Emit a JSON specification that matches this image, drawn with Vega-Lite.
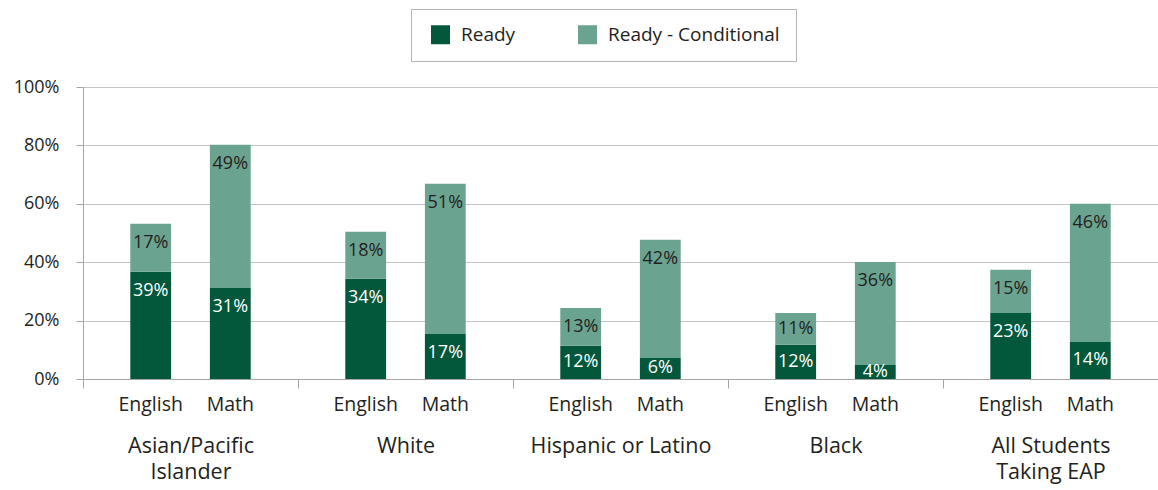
{
  "$schema": "https://vega.github.io/schema/vega-lite/v6.json",
  "width": 1075,
  "height": 292,
  "autosize": {"type": "none"},
  "padding": {"left": 83, "top": 87, "right": 0, "bottom": 111},
  "background": "white",
  "config": {
    "view": {"stroke": null},
    "font": "Open Sans",
    "axis": {"labelFont": "Open Sans", "labelColor": "#231f20", "titleColor": "#231f20"}
  },
  "data": {
    "values": [
      {"group": "Asian/Pacific Islander", "subject": "English", "status": "Ready", "value": 36.7, "label": "39%"},
      {"group": "Asian/Pacific Islander", "subject": "English", "status": "Ready - Conditional", "value": 16.5, "label": "17%"},
      {"group": "Asian/Pacific Islander", "subject": "Math", "status": "Ready", "value": 31.2, "label": "31%"},
      {"group": "Asian/Pacific Islander", "subject": "Math", "status": "Ready - Conditional", "value": 49.0, "label": "49%"},
      {"group": "White", "subject": "English", "status": "Ready", "value": 34.3, "label": "34%"},
      {"group": "White", "subject": "English", "status": "Ready - Conditional", "value": 16.1, "label": "18%"},
      {"group": "White", "subject": "Math", "status": "Ready", "value": 15.4, "label": "17%"},
      {"group": "White", "subject": "Math", "status": "Ready - Conditional", "value": 51.5, "label": "51%"},
      {"group": "Hispanic or Latino", "subject": "English", "status": "Ready", "value": 11.4, "label": "12%"},
      {"group": "Hispanic or Latino", "subject": "English", "status": "Ready - Conditional", "value": 12.9, "label": "13%"},
      {"group": "Hispanic or Latino", "subject": "Math", "status": "Ready", "value": 7.2, "label": "6%"},
      {"group": "Hispanic or Latino", "subject": "Math", "status": "Ready - Conditional", "value": 40.5, "label": "42%"},
      {"group": "Black", "subject": "English", "status": "Ready", "value": 11.7, "label": "12%"},
      {"group": "Black", "subject": "English", "status": "Ready - Conditional", "value": 10.9, "label": "11%"},
      {"group": "Black", "subject": "Math", "status": "Ready", "value": 4.8, "label": "4%"},
      {"group": "Black", "subject": "Math", "status": "Ready - Conditional", "value": 35.3, "label": "36%"},
      {"group": "All Students Taking EAP", "subject": "English", "status": "Ready", "value": 22.6, "label": "23%"},
      {"group": "All Students Taking EAP", "subject": "English", "status": "Ready - Conditional", "value": 14.8, "label": "15%"},
      {"group": "All Students Taking EAP", "subject": "Math", "status": "Ready", "value": 12.7, "label": "14%"},
      {"group": "All Students Taking EAP", "subject": "Math", "status": "Ready - Conditional", "value": 47.3, "label": "46%"}
    ]
  },
  "transform": [
    {"stack": "value", "groupby": ["group", "subject"], "sort": [{"field": "status", "order": "ascending"}], "as": ["v0", "v1"]}
  ],
  "encoding": {
    "x": {
      "field": "group",
      "type": "nominal",
      "sort": ["Asian/Pacific Islander", "White", "Hispanic or Latino", "Black", "All Students Taking EAP"],
      "scale": {"paddingInner": 0, "paddingOuter": 0},
      "axis": {
        "title": null,
        "labelAngle": 0,
        "labelFontSize": 21.5,
        "labelPadding": 47,
        "labelLineHeight": 26,
        "labelBaseline": "top",
        "labelLimit": 0,
        "tickBand": "extent",
        "tickSize": 9,
        "tickColor": "#a6a6a6",
        "domainColor": "#a6a6a6",
        "labelExpr": "datum.label == 'Asian/Pacific Islander' ? ['Asian/Pacific', 'Islander'] : datum.label == 'All Students Taking EAP' ? ['All Students', 'Taking EAP'] : datum.label"
      }
    },
    "xOffset": {
      "field": "subject",
      "type": "nominal",
      "sort": ["English", "Math"],
      "scale": {"paddingInner": 0.4875, "paddingOuter": 0.594}
    }
  },
  "layer": [
    {
      "mark": {"type": "bar"},
      "encoding": {
        "y": {
          "field": "v0",
          "type": "quantitative",
          "scale": {"domain": [0, 100]},
          "axis": {
            "title": null,
            "values": [0, 20, 40, 60, 80, 100],
            "labelExpr": "datum.value + '%'",
            "labelFontSize": 18,
            "labelPadding": 17,
            "tickSize": 7,
            "tickColor": "#a6a6a6",
            "domainColor": "#a6a6a6",
            "grid": true,
            "gridColor": "#c4c4c4"
          }
        },
        "y2": {"field": "v1"},
        "color": {
          "field": "status",
          "type": "nominal",
          "scale": {"domain": ["Ready", "Ready - Conditional"], "range": ["#03573a", "#6ba391"]},
          "legend": {
            "title": null,
            "orient": "none",
            "legendX": 328,
            "legendY": -78,
            "direction": "horizontal",
            "strokeColor": "#b3b3b3",
            "padding": 16,
            "symbolType": "square",
            "symbolSize": 361,
            "symbolStrokeWidth": 0,
            "symbolOffset": 4,
            "labelFontSize": 19,
            "labelFont": "Open Sans",
            "labelColor": "#231f20",
            "labelOffset": 11,
            "labelLimit": 0,
            "columnPadding": 58
          }
        }
      }
    },
    {
      "transform": [{"calculate": "max(datum.v1 - 6.5, (datum.v0 + datum.v1) / 2)", "as": "ly"}],
      "mark": {"type": "text", "baseline": "middle", "align": "center", "fontSize": 18, "clip": true},
      "encoding": {
        "y": {"field": "ly", "type": "quantitative"},
        "text": {"field": "label"},
        "color": {
          "condition": {"test": "datum.status == 'Ready'", "value": "#ffffff"},
          "value": "#231f20"
        }
      }
    },
    {
      "transform": [{"filter": "datum.status == 'Ready'"}],
      "mark": {"type": "text", "baseline": "middle", "align": "center", "dy": 26, "fontSize": 19.5, "color": "#231f20"},
      "encoding": {
        "y": {"datum": 0},
        "text": {"field": "subject"}
      }
    }
  ]
}
